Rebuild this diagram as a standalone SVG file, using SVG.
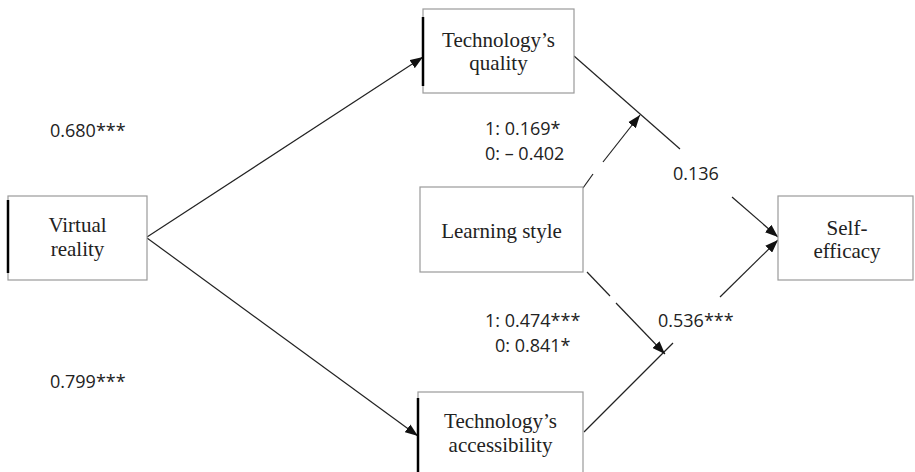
<svg xmlns="http://www.w3.org/2000/svg" width="915" height="472" viewBox="0 0 915 472">
<defs>
<marker id="ah" viewBox="0 0 12 9" refX="12" refY="4.5" markerWidth="13" markerHeight="10" markerUnits="userSpaceOnUse" orient="auto">
<path d="M0,0 L12,4.5 L0,9 z" fill="#111"/>
</marker>
<style>
.box{fill:#fff;stroke:#9a9a9a;stroke-width:1.2}
.edge{stroke:#000;stroke-width:2.5}
.nt{font-family:"Liberation Serif","Times New Roman",serif;font-size:21px;fill:#222;text-anchor:middle}
.lb{font-family:"Open Sans","Liberation Sans",Arial,sans-serif;font-size:18px;fill:#222}
.c{stroke:#222;stroke-width:1.2;fill:none}
</style>
</defs>
<rect width="915" height="472" fill="#fff"/>
<g id="connectors">
<line class="c" x1="147" y1="237" x2="423" y2="57" marker-end="url(#ah)"/>
<line class="c" x1="147" y1="238" x2="418" y2="436" marker-end="url(#ah)"/>
<line class="c" x1="574" y1="56" x2="680" y2="149"/>
<line class="c" x1="732" y1="197" x2="778" y2="237" marker-end="url(#ah)"/>
<line class="c" x1="584" y1="432" x2="673" y2="343"/>
<line class="c" x1="720" y1="297" x2="778" y2="240" marker-end="url(#ah)"/>
<line class="c" x1="583" y1="188" x2="593" y2="174"/>
<line class="c" x1="603" y1="162" x2="640" y2="115" marker-end="url(#ah)"/>
<line class="c" x1="587" y1="272" x2="610" y2="296"/>
<line class="c" x1="616" y1="303" x2="665" y2="354" marker-end="url(#ah)"/>
</g>
<g id="vr">
<rect class="box" x="8" y="196" width="139" height="84"/>
<line class="edge" x1="8" y1="200" x2="8" y2="273"/>
<text class="nt" x="77.5" y="232">Virtual</text>
<text class="nt" x="77.5" y="256">reality</text>
</g>
<g id="tq">
<rect class="box" x="423" y="9" width="151" height="84"/>
<line class="edge" x1="423" y1="17" x2="423" y2="86"/>
<text class="nt" x="498.5" y="47">Technology’s</text>
<text class="nt" x="498.5" y="70">quality</text>
</g>
<g id="ta">
<rect class="box" x="418" y="392" width="165" height="84"/>
<line class="edge" x1="418" y1="398" x2="418" y2="472"/>
<text class="nt" x="500.5" y="428">Technology’s</text>
<text class="nt" x="500.5" y="452">accessibility</text>
</g>
<g id="ls">
<rect class="box" x="420" y="187" width="163" height="85"/>
<text class="nt" x="501.5" y="238">Learning style</text>
</g>
<g id="se">
<rect class="box" x="778" y="196" width="135" height="84"/>
<text class="nt" x="847" y="235">Self-</text>
<text class="nt" x="847" y="258">efficacy</text>
</g>
<g id="labels">
<text class="lb" x="50" y="137">0.680***</text>
<text class="lb" x="50" y="388">0.799***</text>
<text class="lb" x="485" y="135">1: 0.169*</text>
<text class="lb" x="485" y="160">0: – 0.402</text>
<text class="lb" x="673" y="180">0.136</text>
<text class="lb" x="485" y="327">1: 0.474***</text>
<text class="lb" x="495" y="352">0: 0.841*</text>
<text class="lb" x="658" y="327">0.536***</text>
</g>
</svg>
